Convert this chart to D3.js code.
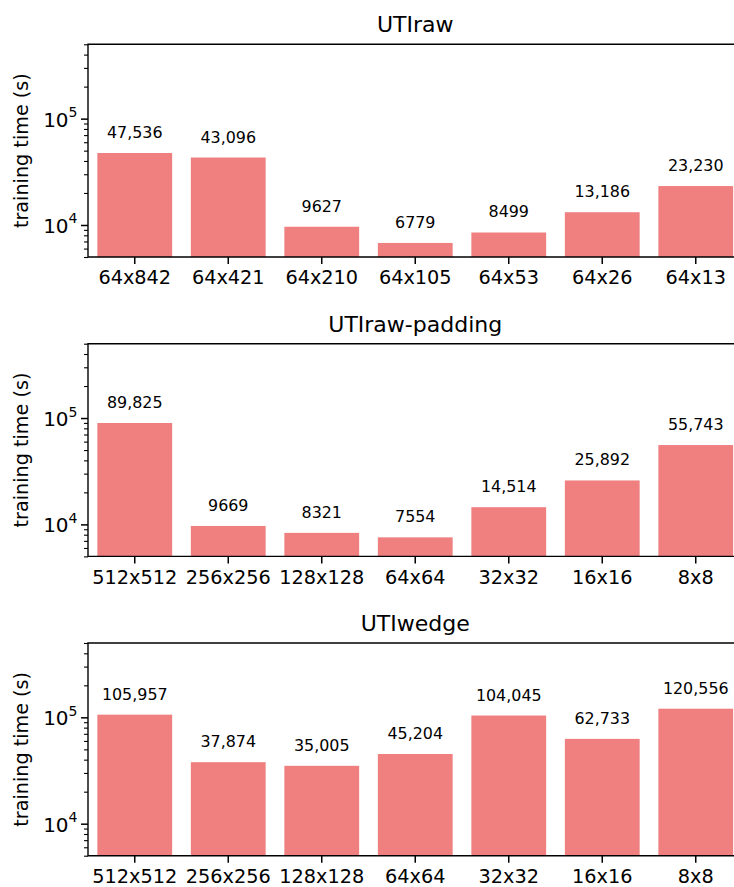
<!DOCTYPE html>
<html>
<head>
<meta charset="utf-8">
<script src="https://cdn.jsdelivr.net/npm/d3@7"></script>
<style>
  html, body { margin: 0; padding: 0; background: #fff; }
  svg { display: block; overflow: hidden; }
  text { font-family: "DejaVu Sans", sans-serif; fill: #000; }
</style>
</head>
<body>
<svg id="chart" width="734" height="887"></svg>
<script>
// Training time per input size, three experiments
const titles = ["UTIraw", "UTIraw-padding", "UTIwedge"];

const rawSizes = ["64x842", "64x421", "64x210", "64x105", "64x53", "64x26", "64x13"];
const rawTimes = [47536, 43096, 9627, 6779, 8499, 13186, 23230];

const paddingSizes = ["512x512", "256x256", "128x128", "64x64", "32x32", "16x16", "8x8"];
const paddingTimes = [89825, 9669, 8321, 7554, 14514, 25892, 55743];

const wedgeSizes = ["512x512", "256x256", "128x128", "64x64", "32x32", "16x16", "8x8"];
const wedgeTimes = [105957, 37874, 35005, 45204, 104045, 62733, 120556];

const yDomain = [5000, 500000];
const majorTicks = [1e4, 1e5];
const yLabel = "training time (s)";

const panels = [
  { title: titles[0], cats: rawSizes, vals: rawTimes },
  { title: titles[1], cats: paddingSizes, vals: paddingTimes },
  { title: titles[2], cats: wedgeSizes, vals: wedgeTimes }
];

const svg = d3.select("#chart");
const left = 88, right = 742.5;
const panelTops = [44.3, 343.7, 643];
const panelH = 212.7;
const barColor = "#F08080";

const fmtValue = v => v >= 10000 ? d3.format(",")(v) : String(v);

// minor tick values for a log axis between the domain bounds
const minorTicks = [];
for (let e = 3; e <= 5; e++) {
  for (let m = 2; m <= 9; m++) {
    const v = m * Math.pow(10, e);
    if (v >= yDomain[0] && v <= yDomain[1]) minorTicks.push(v);
  }
}

panels.forEach((p, i) => {
  const top = panelTops[i], bottom = top + panelH;
  const g = svg.append("g");

  const x = d3.scaleBand().domain(p.cats).range([left, right])
    .paddingInner(0.2).paddingOuter(0.1);
  const y = d3.scaleLog().domain(yDomain).range([bottom, top]);

  // bars
  g.selectAll("rect.bar").data(p.vals).join("rect")
    .attr("class", "bar")
    .attr("x", (d, j) => x(p.cats[j]))
    .attr("width", x.bandwidth())
    .attr("y", d => y(d))
    .attr("height", d => bottom - y(d))
    .attr("fill", barColor);

  // value labels
  g.selectAll("text.val").data(p.vals).join("text")
    .attr("class", "val")
    .attr("x", (d, j) => x(p.cats[j]) + x.bandwidth() / 2)
    .attr("y", d => y(d) - 15)
    .attr("text-anchor", "middle")
    .style("font-size", "15.9px")
    .text(d => fmtValue(d));

  // x axis
  const xAxis = d3.axisBottom(x).tickSize(7).tickPadding(6).tickSizeOuter(0);
  const gx = g.append("g").attr("transform", `translate(0,${bottom})`).call(xAxis);
  gx.select(".domain").remove();
  gx.selectAll(".tick line").attr("stroke", "#000").attr("stroke-width", 1.5);
  gx.selectAll(".tick text").style("font-size", "19.3px")
    .attr("font-family", "DejaVu Sans").attr("fill", "#000")
    .attr("dy", null).attr("y", 27.4);

  // y axis: minor ticks
  const gm = g.append("g").attr("transform", `translate(${left},0)`)
    .call(d3.axisLeft(y).tickValues(minorTicks).tickSize(4).tickFormat(""));
  gm.select(".domain").remove();
  gm.selectAll(".tick line").attr("stroke", "#000").attr("stroke-width", 1.1);

  // y axis: major ticks with power-of-ten labels
  const gy = g.append("g").attr("transform", `translate(${left},0)`)
    .call(d3.axisLeft(y).tickValues(majorTicks).tickSize(7).tickFormat(""));
  gy.select(".domain").remove();
  gy.selectAll(".tick line").attr("stroke", "#000").attr("stroke-width", 1.5);
  gy.selectAll(".tick").each(function(d) {
    const t = d3.select(this).append("text")
      .attr("x", -10.5).attr("y", 7.5)
      .attr("text-anchor", "end")
      .style("font-size", "20px");
    t.append("tspan").text("10");
    t.append("tspan").attr("dy", -9.5).style("font-size", "14px")
      .text(Math.round(Math.log10(d)));
  });

  // spines: left, top, bottom
  g.append("path")
    .attr("d", `M${right},${top}H${left}V${bottom}H${right}`)
    .attr("fill", "none").attr("stroke", "#000").attr("stroke-width", 1.4);

  // title
  g.append("text")
    .attr("x", (left + right) / 2).attr("y", top - 12)
    .attr("text-anchor", "middle")
    .style("font-size", "22px")
    .text(p.title);

  // y label
  g.append("text")
    .attr("transform", `translate(28,${(top + bottom) / 2}) rotate(-90)`)
    .attr("text-anchor", "middle")
    .style("font-size", "19.2px")
    .text(yLabel);
});
</script>
</body>
</html>
